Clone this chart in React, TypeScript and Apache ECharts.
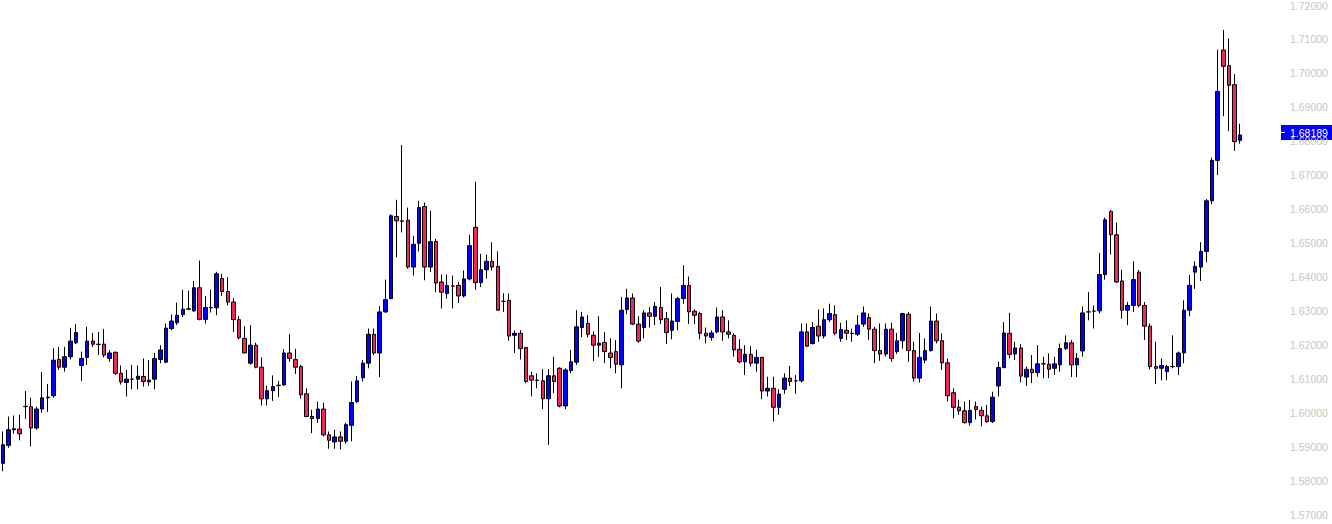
import React, { useEffect, useRef } from "react";
import * as echarts from "echarts";

// [open, close, low, high]
const ohlc: number[][] = [
  [1.5852,1.5907,1.5829,1.5946],[1.5905,1.5951,1.5898,1.5990],[1.5951,1.5954,1.5939,1.5993],[1.5953,1.5939,1.5920,1.5995],
  [1.6019,1.6020,1.5983,1.6065],[1.6019,1.5956,1.5902,1.6045],[1.5956,1.6012,1.5951,1.6019],[1.6012,1.6045,1.6001,1.6121],
  [1.6045,1.6047,1.6003,1.6086],[1.6051,1.6156,1.6045,1.6191],[1.6158,1.6135,1.6127,1.6195],[1.6135,1.6166,1.6122,1.6195],
  [1.6166,1.6212,1.6158,1.6251],[1.6207,1.6237,1.6203,1.6262],[1.6140,1.6161,1.6095,1.6181],[1.6164,1.6212,1.6142,1.6254],
  [1.6212,1.6203,1.6195,1.6236],[1.6203,1.6202,1.6171,1.6239],[1.6203,1.6171,1.6164,1.6248],[1.6161,1.6177,1.6151,1.6186],
  [1.6179,1.6117,1.6112,1.6181],[1.6117,1.6092,1.6084,1.6140],[1.6090,1.6100,1.6049,1.6127],[1.6100,1.6100,1.6070,1.6142],
  [1.6100,1.6109,1.6070,1.6140],[1.6108,1.6093,1.6078,1.6161],[1.6092,1.6097,1.6080,1.6156],[1.6100,1.6161,1.6070,1.6177],
  [1.6158,1.6186,1.6147,1.6200],[1.6150,1.6250,1.6147,1.6264],[1.6249,1.6271,1.6244,1.6290],[1.6266,1.6288,1.6259,1.6325],
  [1.6290,1.6306,1.6283,1.6363],[1.6306,1.6307,1.6303,1.6361],[1.6301,1.6369,1.6298,1.6389],[1.6369,1.6276,1.6273,1.6449],
  [1.6276,1.6311,1.6264,1.6345],[1.6311,1.6310,1.6296,1.6364],[1.6310,1.6410,1.6288,1.6416],[1.6396,1.6358,1.6345,1.6410],
  [1.6358,1.6327,1.6317,1.6400],[1.6327,1.6275,1.6239,1.6339],[1.6275,1.6222,1.6217,1.6285],[1.6220,1.6177,1.6176,1.6256],
  [1.6147,1.6200,1.6142,1.6259],[1.6200,1.6135,1.6132,1.6207],[1.6135,1.6042,1.6022,1.6164],[1.6042,1.6066,1.6022,1.6081],
  [1.6066,1.6078,1.6036,1.6111],[1.6081,1.6082,1.6047,1.6095],[1.6083,1.6177,1.6081,1.6188],[1.6177,1.6161,1.6151,1.6232],
  [1.6158,1.6135,1.6115,1.6189],[1.6137,1.6054,1.6042,1.6142],[1.6057,1.5990,1.5988,1.6073],[1.5990,1.5984,1.5941,1.6010],
  [1.5984,1.6012,1.5971,1.6034],[1.6012,1.5936,1.5931,1.6031],[1.5936,1.5920,1.5895,1.5946],[1.5915,1.5930,1.5895,1.5951],
  [1.5930,1.5917,1.5893,1.5946],[1.5917,1.5966,1.5910,1.5971],[1.5964,1.6031,1.5917,1.6093],[1.6034,1.6095,1.6029,1.6109],
  [1.6104,1.6147,1.6093,1.6156],[1.6147,1.6232,1.6132,1.6249],[1.6232,1.6177,1.6171,1.6249],[1.6177,1.6298,1.6106,1.6315],
  [1.6298,1.6334,1.6295,1.6393],[1.6337,1.6581,1.6335,1.6585],[1.6579,1.6566,1.6459,1.6628],[1.6566,1.6565,1.6532,1.6789],
  [1.6568,1.6430,1.6425,1.6605],[1.6430,1.6497,1.6405,1.6522],[1.6500,1.6605,1.6476,1.6625],[1.6608,1.6430,1.6391,1.6620],
  [1.6430,1.6505,1.6415,1.6596],[1.6505,1.6383,1.6356,1.6513],[1.6386,1.6356,1.6308,1.6408],[1.6352,1.6376,1.6337,1.6408],
  [1.6374,1.6374,1.6308,1.6405],[1.6376,1.6345,1.6324,1.6386],[1.6345,1.6395,1.6340,1.6420],[1.6395,1.6493,1.6391,1.6525],
  [1.6547,1.6384,1.6363,1.6681],[1.6384,1.6422,1.6371,1.6469],[1.6422,1.6447,1.6396,1.6467],[1.6447,1.6430,1.6420,1.6503],
  [1.6432,1.6303,1.6301,1.6476],[1.6329,1.6329,1.6298,1.6353],[1.6332,1.6227,1.6213,1.6352],[1.6229,1.6235,1.6177,1.6244],
  [1.6235,1.6190,1.6158,1.6244],[1.6193,1.6093,1.6088,1.6195],[1.6110,1.6097,1.6049,1.6122],[1.6097,1.6096,1.6073,1.6117],
  [1.6095,1.6042,1.6012,1.6129],[1.6042,1.6110,1.5907,1.6130],[1.6110,1.6093,1.6059,1.6166],[1.6132,1.6021,1.6017,1.6135],
  [1.6021,1.6127,1.6012,1.6132],[1.6125,1.6151,1.6117,1.6186],[1.6150,1.6254,1.6142,1.6303],[1.6252,1.6283,1.6223,1.6298],
  [1.6264,1.6232,1.6223,1.6288],[1.6229,1.6200,1.6153,1.6241],[1.6200,1.6206,1.6166,1.6285],[1.6208,1.6181,1.6147,1.6239],
  [1.6177,1.6164,1.6132,1.6220],[1.6181,1.6144,1.6117,1.6215],[1.6142,1.6303,1.6073,1.6342],[1.6305,1.6339,1.6291,1.6366],
  [1.6339,1.6262,1.6259,1.6352],[1.6262,1.6212,1.6207,1.6285],[1.6252,1.6295,1.6220,1.6303],[1.6295,1.6285,1.6252,1.6312],
  [1.6285,1.6314,1.6259,1.6327],[1.6311,1.6275,1.6262,1.6371],[1.6278,1.6237,1.6203,1.6298],[1.6244,1.6271,1.6217,1.6352],
  [1.6270,1.6337,1.6244,1.6342],[1.6337,1.6376,1.6322,1.6435],[1.6376,1.6298,1.6262,1.6402],[1.6300,1.6288,1.6262,1.6305],
  [1.6293,1.6235,1.6217,1.6298],[1.6235,1.6227,1.6205,1.6252],[1.6223,1.6236,1.6213,1.6244],[1.6239,1.6283,1.6235,1.6311],
  [1.6283,1.6239,1.6213,1.6303],[1.6239,1.6232,1.6220,1.6273],[1.6229,1.6186,1.6166,1.6235],[1.6188,1.6151,1.6147,1.6217],
  [1.6151,1.6173,1.6112,1.6200],[1.6173,1.6147,1.6137,1.6197],[1.6147,1.6164,1.6122,1.6186],[1.6164,1.6065,1.6041,1.6166],
  [1.6065,1.6073,1.6049,1.6107],[1.6073,1.6017,1.5975,1.6107],[1.6017,1.6056,1.5995,1.6070],[1.6070,1.6103,1.6057,1.6117],
  [1.6103,1.6093,1.6080,1.6139],[1.6095,1.6095,1.6057,1.6112],[1.6095,1.6239,1.6090,1.6264],[1.6239,1.6197,1.6195,1.6264],
  [1.6205,1.6252,1.6202,1.6268],[1.6256,1.6227,1.6210,1.6305],[1.6227,1.6275,1.6220,1.6308],[1.6275,1.6293,1.6268,1.6322],
  [1.6290,1.6235,1.6229,1.6317],[1.6220,1.6246,1.6210,1.6266],[1.6244,1.6235,1.6215,1.6273],[1.6235,1.6234,1.6210,1.6249],
  [1.6232,1.6259,1.6227,1.6288],[1.6262,1.6295,1.6254,1.6314],[1.6281,1.6247,1.6215,1.6293],[1.6247,1.6184,1.6147,1.6254],
  [1.6184,1.6174,1.6154,1.6264],[1.6174,1.6247,1.6166,1.6264],[1.6247,1.6161,1.6151,1.6266],[1.6181,1.6213,1.6174,1.6236],
  [1.6213,1.6293,1.6190,1.6295],[1.6291,1.6184,1.6151,1.6298],[1.6184,1.6103,1.6093,1.6210],[1.6103,1.6164,1.6090,1.6236],
  [1.6156,1.6184,1.6147,1.6220],[1.6184,1.6271,1.6181,1.6314],[1.6271,1.6213,1.6205,1.6293],[1.6213,1.6148,1.6127,1.6235],
  [1.6148,1.6051,1.6034,1.6161],[1.6060,1.6017,1.5985,1.6073],[1.6017,1.6007,1.5995,1.6039],[1.6007,1.5972,1.5969,1.6034],
  [1.5972,1.6008,1.5963,1.6039],[1.6019,1.6010,1.5981,1.6034],[1.6008,1.5992,1.5961,1.6019],[1.5992,1.5975,1.5971,1.6024],
  [1.5975,1.6047,1.5971,1.6063],[1.6080,1.6134,1.6049,1.6151],[1.6134,1.6236,1.6132,1.6268],[1.6235,1.6173,1.6161,1.6295],
  [1.6174,1.6192,1.6156,1.6210],[1.6192,1.6109,1.6090,1.6203],[1.6106,1.6129,1.6080,1.6137],[1.6129,1.6119,1.6088,1.6171],
  [1.6119,1.6145,1.6107,1.6200],[1.6145,1.6145,1.6103,1.6166],[1.6144,1.6129,1.6103,1.6176],[1.6132,1.6145,1.6112,1.6166],
  [1.6142,1.6190,1.6122,1.6205],[1.6190,1.6207,1.6186,1.6229],[1.6207,1.6142,1.6106,1.6215],[1.6142,1.6161,1.6106,1.6177],
  [1.6183,1.6295,1.6166,1.6314],[1.6298,1.6298,1.6273,1.6356],[1.6300,1.6300,1.6249,1.6317],[1.6301,1.6408,1.6293,1.6471],
  [1.6408,1.6569,1.6393,1.6576],[1.6594,1.6525,1.6467,1.6598],[1.6525,1.6386,1.6383,1.6561],[1.6389,1.6303,1.6278,1.6422],
  [1.6303,1.6317,1.6259,1.6327],[1.6317,1.6393,1.6298,1.6447],[1.6415,1.6317,1.6312,1.6422],[1.6317,1.6256,1.6215,1.6327],
  [1.6256,1.6137,1.6129,1.6264],[1.6137,1.6132,1.6086,1.6210],[1.6132,1.6140,1.6096,1.6161],[1.6122,1.6137,1.6097,1.6142],
  [1.6137,1.6137,1.6132,1.6229],[1.6137,1.6177,1.6112,1.6181],[1.6177,1.6303,1.6147,1.6332],[1.6303,1.6376,1.6285,1.6407],
  [1.6415,1.6432,1.6366,1.6447],[1.6430,1.6476,1.6389,1.6503],[1.6476,1.6625,1.6444,1.6630],[1.6625,1.6744,1.6615,1.6752],
  [1.6744,1.6947,1.6701,1.7070],[1.7069,1.7021,1.6874,1.7128],[1.7023,1.6965,1.6830,1.7103],[1.6967,1.6799,1.6772,1.6998],
  [1.6803,1.68189,1.6793,1.6852],
];

const categories: string[] = ohlc.map((_, i) => String(i + 1));

const yMin = 1.57;
const yMax = 1.72;
const yStep = 0.01;

const UP = "#0000ff";
const DOWN = "#f2255b";

export default function App() {
  const ref = useRef<HTMLDivElement>(null);
  useEffect(() => {
    if (!ref.current) return;
    const chart = echarts.init(ref.current, undefined, { renderer: "svg" });
    const lastClose = ohlc[ohlc.length - 1][1];
    chart.setOption({
      animation: false,
      backgroundColor: "#ffffff",
      grid: { left: 0, right: 89, top: 4, bottom: 9 },
      xAxis: {
        type: "category",
        data: categories,
        show: false,
        boundaryGap: true,
      },
      yAxis: {
        type: "value",
        position: "right",
        min: yMin,
        max: yMax,
        interval: yStep,
        scale: true,
        axisLine: { show: false },
        axisTick: { show: false },
        splitLine: { show: false },
        axisLabel: {
          margin: 47,
          color: "#c6c6c6",
          fontSize: 10.5,
          fontFamily: "Liberation Sans",
          formatter: (v: number) => v.toFixed(5),
        },
      },
      series: [
        {
          type: "candlestick",
          data: ohlc,
          barWidth: 4,
          itemStyle: {
            color: UP,
            color0: DOWN,
            borderColor: "#000000",
            borderColor0: "#000000",
            borderWidth: 1,
          },
        },
      ],
    });
    const y = chart.convertToPixel({ yAxisIndex: 0 }, lastClose) as number;
    chart.setOption({
      graphic: [
        {
          type: "group",
          x: 1281,
          y: Math.round(y) - 10,
          children: [
            { type: "rect", shape: { x: 0, y: 0, width: 51, height: 15 }, style: { fill: "#0000ff" } },
            { type: "line", shape: { x1: 0, y1: 7.5, x2: 4, y2: 7.5 }, style: { stroke: "#ffffff", lineWidth: 1 } },
            {
              type: "text",
              x: 9,
              y: 8,
              style: {
                text: lastClose.toFixed(5),
                fill: "#ffffff",
                fontSize: 10.5,
                fontFamily: "Liberation Sans",
                verticalAlign: "middle",
              },
            },
          ],
        },
      ],
    });
    return () => chart.dispose();
  }, []);
  return (
    <div
      ref={ref}
      style={{ position: "absolute", left: 0, top: 0, width: 1332, height: 524 }}
    />
  );
}
